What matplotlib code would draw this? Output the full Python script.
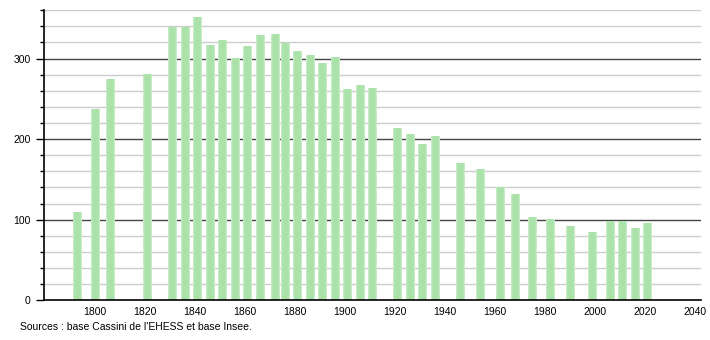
import matplotlib
matplotlib.use('Agg')
import matplotlib.pyplot as plt
import numpy as np
from matplotlib.colors import LinearSegmentedColormap

plt.rcParams['font.family'] = ['Liberation Sans', 'DejaVu Sans']

# Census years and population
years = [1793, 1800, 1806, 1821, 1831, 1836, 1841, 1846, 1851, 1856,
         1861, 1866, 1872, 1876, 1881, 1886, 1891, 1896, 1901, 1906,
         1911, 1921, 1926, 1931, 1936, 1946, 1954, 1962, 1968, 1975,
         1982, 1990, 1999, 2006, 2011, 2016, 2021]
population = [109, 236, 274, 280, 338, 338, 351, 316, 322, 300,
              315, 328, 329, 318, 309, 303, 294, 301, 261, 266,
              263, 213, 206, 193, 203, 170, 162, 140, 131, 103,
              100, 91, 84, 98, 97, 89, 95]
x_ticks = [1800, 1820, 1840, 1860, 1880, 1900, 1920, 1940, 1960, 1980, 2000, 2020, 2040]
y_major = [0, 100, 200, 300]
y_minor = list(range(0, 361, 20))
source = "Sources : base Cassini de l'EHESS et base Insee."

fig = plt.figure(figsize=(7.1, 3.4), dpi=100)
ax = fig.add_axes([0.062, 0.117, 0.925, 0.853])

# Light grey minor grid, dark major grid, drawn behind the bars
for v in y_minor:
    if v in y_major:
        continue
    ax.axhline(v, color='#cccccc', lw=1.0, zorder=0)
for v in y_major[1:]:
    ax.axhline(v, color='#444444', lw=1.0, zorder=0)

bars = ax.bar(years, population, width=3.4, color='none', zorder=2)

# horizontal gradient fill for each bar, mostly solid in the middle
cmap = LinearSegmentedColormap.from_list(
    'g', [(0, '#cdeecd'), (0.2, '#aae2aa'), (0.8, '#aae2aa'), (1, '#cdeecd')])
grad = np.linspace(0, 1, 32).reshape(1, -1)
for b in bars:
    x0, y0 = b.get_x(), b.get_y()
    ax.imshow(grad, cmap=cmap, aspect='auto', zorder=2,
              extent=(x0, x0 + b.get_width(), y0, y0 + b.get_height()))

ax.set_xlim(1779.6, 2042.4)
ax.set_ylim(0, 360)
ax.set_xticks(x_ticks)
ax.set_yticks(y_major)
ax.set_yticks(y_minor, minor=True)
ax.tick_params(axis='x', length=0, labelsize=7.5, pad=5)
ax.tick_params(axis='y', which='major', length=6, width=1, labelsize=7.5)
ax.tick_params(axis='y', which='minor', length=3, width=1)
ax.spines['top'].set_visible(False)
ax.spines['right'].set_visible(False)
ax.spines['left'].set_linewidth(1.2)
ax.spines['bottom'].set_linewidth(1.2)

fig.text(0.028, 0.038, source, fontsize=7.5, va='center', ha='left')

fig.savefig('out.png', dpi=100)
